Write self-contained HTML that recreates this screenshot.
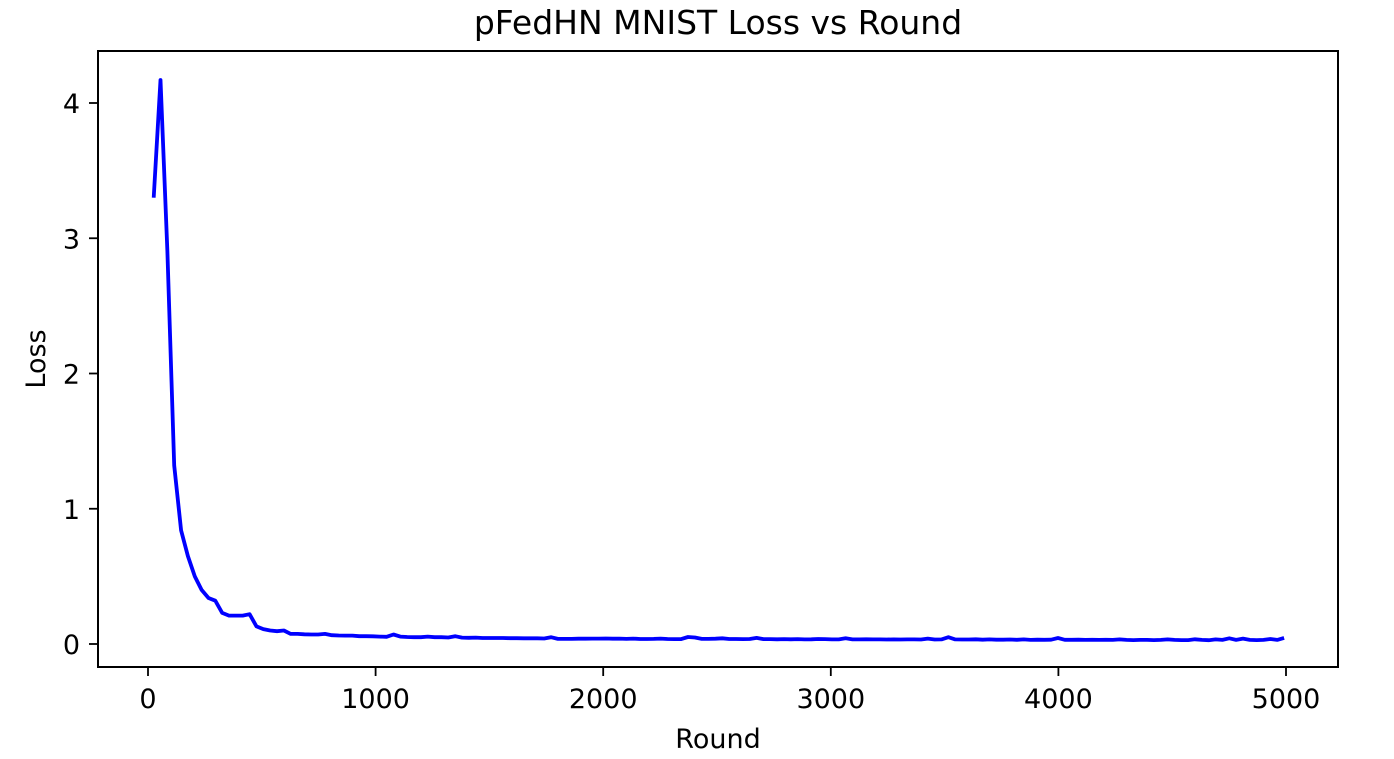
<!DOCTYPE html>
<html><head><meta charset="utf-8"><style>
body{margin:0;background:#fff;}
svg text{font-family:"DejaVu Sans","Liberation Sans",sans-serif;fill:#000;}
</style></head><body>
<svg id="chart" width="1394" height="754" xmlns="http://www.w3.org/2000/svg">
<text x="718" y="34" font-size="33" text-anchor="middle">pFedHN MNIST Loss vs Round</text>
<text x="718" y="748" font-size="27" text-anchor="middle">Round</text>
<text transform="translate(45,359) rotate(-90)" font-size="27" text-anchor="middle">Loss</text>
<g id="ticks"></g>
<polyline id="line" fill="none" stroke="#0000ff" stroke-width="3.8" stroke-linejoin="round"/>
<rect x="98" y="51" width="1240" height="616" fill="none" stroke="#000" stroke-width="2"/>
</svg>
<script>
const xTicks=[0,1000,2000,3000,4000,5000];
const yTicks=[0,1,2,3,4];
const roundStart=25, roundStep=30.1;
const loss=[3.30,4.17,2.90,1.32,0.84,0.65,0.50,0.40,0.34,0.32,0.23,0.21,0.21,0.21,0.22,0.13,0.11,0.10,0.095,0.10,0.075,
0.075,0.072,0.07,0.07,0.075,0.065,0.063,0.062,0.062,0.058,0.058,0.057,
0.055,0.053,0.07,0.055,0.052,0.05,0.05,0.055,0.05,0.05,0.048,0.058,0.047,
0.046,0.047,0.044,0.044,0.044,0.044,0.043,0.043,0.042,0.042,0.042,0.041,0.05,
0.038,0.038,0.038,0.039,0.039,0.04,0.04,0.041,0.039,0.04,0.038,0.04,0.037,
0.037,0.038,0.04,0.037,0.036,0.036,0.052,0.048,0.038,0.038,0.039,0.042,0.037,
0.037,0.036,0.037,0.045,0.036,0.036,0.035,0.036,0.035,0.036,0.034,0.035,0.037,
0.036,0.034,0.034,0.042,0.034,0.034,0.035,0.034,0.034,0.033,0.034,0.033,0.034,
0.034,0.033,0.04,0.033,0.034,0.05,0.034,0.033,0.033,0.035,0.032,0.034,0.032,
0.032,0.033,0.031,0.034,0.03,0.032,0.031,0.032,0.044,0.031,0.031,0.032,0.03,
0.031,0.03,0.031,0.03,0.034,0.03,0.029,0.03,0.03,0.029,0.03,0.034,0.03,
0.029,0.029,0.035,0.03,0.028,0.034,0.03,0.042,0.03,0.04,0.03,0.029,0.03,
0.037,0.03,0.045];
const rounds=loss.map((_,i)=>roundStart+i*roundStep);
function xs(v){return 148+v*(1286-148)/5000;}
function ys(v){return 644-v*135.25;}
const NS="http://www.w3.org/2000/svg";
const g=document.getElementById('ticks');
xTicks.forEach(t=>{
  const l=document.createElementNS(NS,'line');
  
  
  l.setAttribute('x1',xs(t));l.setAttribute('x2',xs(t));l.setAttribute('y1',667);l.setAttribute('y2',676);
  l.setAttribute('stroke','#000');l.setAttribute('stroke-width','1.8');g.appendChild(l);
  const tx=document.createElementNS(NS,'text');
  
  
  tx.setAttribute('x',xs(t));tx.setAttribute('y',708);tx.setAttribute('font-size','27');tx.setAttribute('text-anchor','middle');
  tx.textContent=t;g.appendChild(tx);
});
yTicks.forEach(t=>{
  const l=document.createElementNS(NS,'line');
  
  
  l.setAttribute('x1',89);l.setAttribute('x2',98);l.setAttribute('y1',ys(t));l.setAttribute('y2',ys(t));
  l.setAttribute('stroke','#000');l.setAttribute('stroke-width','1.8');g.appendChild(l);
  const tx=document.createElementNS(NS,'text');
  
  
  tx.setAttribute('x',80);tx.setAttribute('y',ys(t)+10);tx.setAttribute('font-size','27');tx.setAttribute('text-anchor','end');
  tx.textContent=t;g.appendChild(tx);
});
document.getElementById('line').setAttribute('points',rounds.map((r,i)=>xs(r).toFixed(1)+','+ys(loss[i]).toFixed(1)).join(' '));
</script>
</body></html>
